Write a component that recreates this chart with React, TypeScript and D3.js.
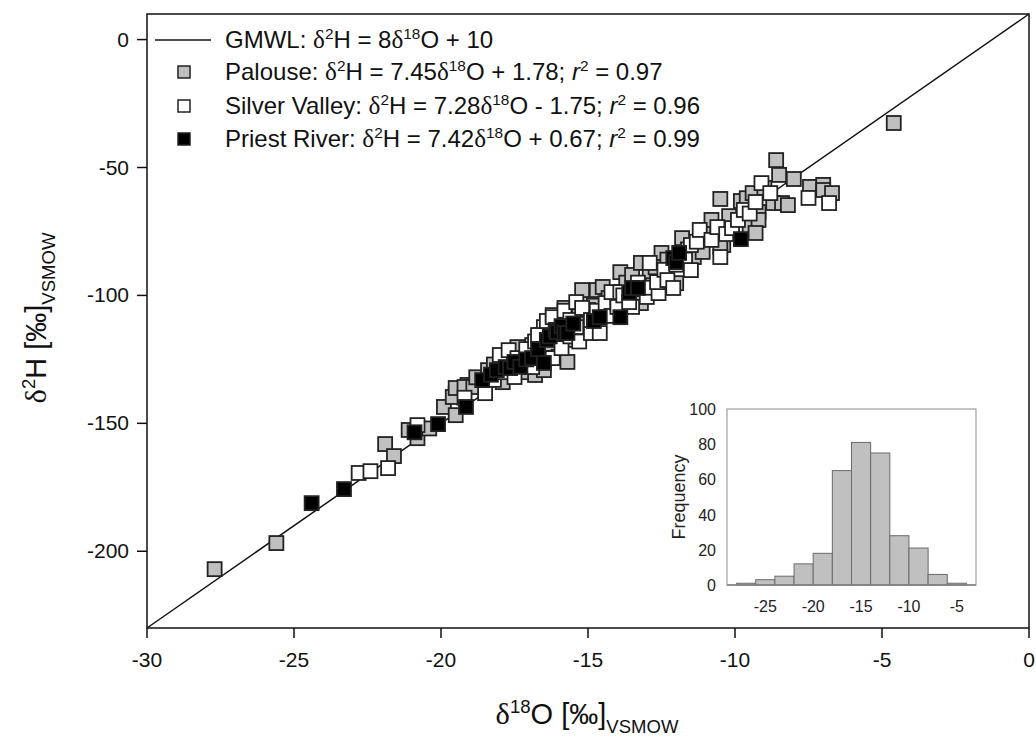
import * as d3 from "d3";
import { useRef, useEffect } from "react";

const W = 1036;
const H = 740;

// main plot box (px)
const box = { left: 147, right: 1029, top: 14, bottom: 628 };
// inset histogram box (px)
const inset = { left: 727, right: 976, top: 409, bottom: 585 };

const xTicks = [-30, -25, -20, -15, -10, -5, 0];
const yTicks = [0, -50, -100, -150, -200];

// GMWL: d2H = 8 d18O + 10
const gmwl = { slope: 8, intercept: 10 };

// [d18O, d2H]
const palouse: [number, number][] = [
  [-27.7, -207], [-25.6, -196.8], [-21.9, -158.1], [-21.6, -162.8], [-20.8, -155.8],
  [-21.1, -152.6], [-20.4, -152], [-19.9, -143.6], [-19.5, -138.2], [-19.5, -146.8],
  [-19.6, -139.7], [-19.5, -136.2], [-19.1, -135], [-19.2, -135.8], [-18.9, -135.8],
  [-18.8, -132], [-18.4, -129.2], [-18.2, -127], [-17.9, -133.9], [-17.6, -123],
  [-17.2, -125], [-17.1, -130], [-17.0, -128], [-16.8, -131.1], [-16.5, -129.2],
  [-16.9, -119.4], [-16.6, -122], [-17.4, -120.2], [-16.6, -115.5], [-16.3, -119],
  [-16.0, -124], [-15.7, -126], [-15.5, -117.4], [-15.9, -111], [-15.8, -104.9],
  [-15.5, -106.5], [-15.3, -108], [-15.2, -113], [-15.0, -101], [-15.2, -97.9],
  [-14.8, -104], [-14.7, -97.9], [-14.5, -96.7], [-14.3, -101], [-14.0, -106],
  [-13.9, -90.9], [-13.7, -95], [-13.5, -92], [-13.2, -87.3], [-13.2, -103],
  [-12.9, -91], [-12.8, -96], [-12.7, -89], [-12.5, -83.4], [-12.3, -86],
  [-12.0, -95.2], [-11.8, -77.6], [-11.6, -82], [-11.4, -85], [-11.1, -83],
  [-10.9, -75], [-10.6, -73.7], [-10.4, -80.3], [-10.8, -70.5], [-10.5, -81.1],
  [-10.2, -69], [-10.5, -62.3], [-9.8, -63.1], [-9.6, -62], [-9.4, -60],
  [-9.2, -67.4], [-9.5, -73.3], [-9.2, -70.5], [-9.3, -75.6], [-9.0, -58],
  [-8.7, -63.9], [-8.4, -63.9], [-8.2, -64.7], [-8.6, -47.1], [-8.5, -52.9],
  [-8.0, -54.5], [-7.45, -57.6], [-7.0, -56.8], [-7.0, -58.8], [-6.7, -60],
  [-4.6, -32.6],
];

const silverValley: [number, number][] = [
  [-22.8, -169.4], [-22.4, -168.7], [-21.8, -167.5], [-20.8, -150.7], [-19.2, -140],
  [-18.5, -138.2], [-18.2, -133], [-17.9, -130], [-18.0, -123.3], [-17.7, -121.4],
  [-17.4, -124.5], [-17.5, -131.9], [-17.1, -121], [-16.9, -128], [-16.8, -118],
  [-16.5, -112.4], [-16.7, -115.5], [-16.4, -110], [-16.2, -107.7], [-16.2, -124.5],
  [-15.9, -120.6], [-16.2, -108.5], [-15.8, -106], [-15.6, -109.6], [-15.6, -116],
  [-15.4, -112.4], [-15.3, -118], [-14.9, -114.7], [-14.6, -114.7], [-15.0, -105.7],
  [-15.4, -102.6], [-15.2, -104.9], [-14.9, -109.6], [-14.7, -106], [-14.4, -103],
  [-14.2, -108], [-14.0, -103], [-14.0, -104.5], [-13.5, -104.5], [-14.2, -98.7],
  [-13.9, -98.7], [-13.8, -100], [-13.6, -102.6], [-13.3, -95], [-13.0, -100.6],
  [-12.9, -97], [-12.6, -99.1], [-12.65, -94.8], [-12.4, -90], [-12.3, -94],
  [-12.1, -97.1], [-12.0, -88], [-12.9, -87.3], [-11.7, -86], [-11.5, -90.1],
  [-11.5, -80.3], [-11.3, -79], [-11.2, -74.4], [-10.8, -78.3], [-10.5, -85],
  [-10.6, -73.3], [-10.3, -76], [-10.1, -73.7], [-9.9, -70.5], [-9.7, -66.6],
  [-9.5, -68], [-9.3, -63.5], [-9.1, -56.1], [-8.8, -60], [-7.5, -61.9],
  [-6.8, -63.9],
];

const priestRiver: [number, number][] = [
  [-24.4, -181.2], [-23.3, -175.7], [-20.9, -153.5], [-20.1, -150.3], [-19.15, -143.6],
  [-18.6, -133.1], [-18.3, -131], [-18.1, -129.2], [-17.8, -128], [-17.65, -128.4],
  [-17.5, -126], [-17.3, -127.9], [-17.1, -125], [-16.9, -124.5], [-16.7, -121],
  [-16.5, -126.4], [-16.4, -117.4], [-16.3, -116], [-16.1, -113.5], [-16.05, -114.3],
  [-15.9, -112], [-15.8, -114.7], [-15.7, -114.7], [-15.5, -111], [-14.8, -110],
  [-14.6, -108.5], [-13.9, -108.5], [-13.6, -99], [-13.5, -97.1], [-13.3, -97.1],
  [-12.1, -85.4], [-12.0, -87], [-11.9, -83.4], [-9.8, -78],
];

// inset histogram of d18O (bin width 2)
const binStarts = [-28, -26, -24, -22, -20, -18, -16, -14, -12, -10, -8, -6];
const binCounts = [1, 3, 5, 12, 18, 65, 81, 75, 28, 21, 6, 1];
const histXTicks = [-25, -20, -15, -10, -5];
const histYTicks = [0, 20, 40, 60, 80, 100];

type Seg = [string, string?];

// writes mixed text: n normal, sup, sub, d = serif delta, i = italic
function rich(text: any, segs: Seg[], size: number) {
  let shift = 0;
  segs.forEach(([t, kind]) => {
    const ts = text.append("tspan").text(t);
    let target = 0;
    if (kind === "sup") target = -size * 0.38;
    if (kind === "sub") target = size * 0.3;
    ts.attr("dy", target - shift);
    shift = target;
    if (kind === "sup" || kind === "sub") ts.attr("font-size", size * 0.64);
    if (kind === "d") ts.attr("font-family", "'Liberation Serif', serif").attr("font-size", size * 1.05);
    if (kind === "i") ts.attr("font-style", "italic");
  });
}

const App = () => {
  const ref = useRef<SVGSVGElement>(null);

  useEffect(() => {
    const svg = d3.select(ref.current);
    svg.selectAll("*").remove();
    svg.attr("font-family", "'Liberation Sans', Arial, sans-serif");

    const x = d3.scaleLinear().domain([-30, 0]).range([box.left, box.right]);
    const y = d3.scaleLinear().domain([-230, 10]).range([box.bottom, box.top]);

    // GMWL line across the x domain
    const gx = x.domain();
    svg.append("line")
      .attr("x1", x(gx[0])).attr("y1", y(gmwl.slope * gx[0] + gmwl.intercept))
      .attr("x2", x(gx[1])).attr("y2", y(gmwl.slope * gx[1] + gmwl.intercept))
      .attr("stroke", "#111").attr("stroke-width", 1.5);

    // points
    const size = 14;
    const drawPts = (data: [number, number][], fill: string) => {
      svg.append("g").selectAll("rect").data(data).join("rect")
        .attr("x", d => x(d[0]) - size / 2)
        .attr("y", d => y(d[1]) - size / 2)
        .attr("width", size).attr("height", size)
        .attr("fill", fill).attr("stroke", "#222").attr("stroke-width", 1.8);
    };
    drawPts(palouse, "#c0c0c0");
    drawPts(silverValley, "#ffffff");
    drawPts(priestRiver, "#000000");

    // frame
    svg.append("rect")
      .attr("x", box.left).attr("y", box.top)
      .attr("width", box.right - box.left).attr("height", box.bottom - box.top)
      .attr("fill", "none").attr("stroke", "#111").attr("stroke-width", 1.5);

    // x axis
    const xa = svg.append("g");
    xTicks.forEach(t => {
      xa.append("line").attr("x1", x(t)).attr("x2", x(t))
        .attr("y1", box.bottom).attr("y2", box.bottom + 10)
        .attr("stroke", "#111").attr("stroke-width", 1.5);
      xa.append("text").attr("x", x(t)).attr("y", box.bottom + 39)
        .attr("text-anchor", "middle").attr("font-size", 21).attr("fill", "#111").text(t);
    });
    // y axis
    const ya = svg.append("g");
    yTicks.forEach(t => {
      ya.append("line").attr("x1", box.left - 10).attr("x2", box.left)
        .attr("y1", y(t)).attr("y2", y(t))
        .attr("stroke", "#111").attr("stroke-width", 1.5);
      ya.append("text").attr("x", box.left - 18).attr("y", y(t) + 7)
        .attr("text-anchor", "end").attr("font-size", 21).attr("fill", "#111").text(t);
    });

    // axis titles
    const xt = svg.append("text").attr("x", 587).attr("y", 724)
      .attr("text-anchor", "middle").attr("font-size", 29).attr("fill", "#111");
    rich(xt, [["δ", "d"], ["18", "sup"], ["O [‰]"], ["VSMOW", "sub"]], 29);

    const yt = svg.append("text")
      .attr("transform", `translate(46,318) rotate(-90)`)
      .attr("text-anchor", "middle").attr("font-size", 29).attr("fill", "#111");
    rich(yt, [["δ", "d"], ["2", "sup"], ["H [‰]"], ["VSMOW", "sub"]], 29);

    // legend
    const lg = svg.append("g");
    const fs = 24;
    const rowY = [40, 72, 106, 139];
    lg.append("line").attr("x1", 155).attr("x2", 211).attr("y1", rowY[0]).attr("y2", rowY[0])
      .attr("stroke", "#111").attr("stroke-width", 1.5);
    const fills = ["#c0c0c0", "#ffffff", "#000000"];
    fills.forEach((f, i) => {
      lg.append("rect").attr("x", 184 - 6).attr("y", rowY[i + 1] - 6)
        .attr("width", 12).attr("height", 12)
        .attr("fill", f).attr("stroke", "#222").attr("stroke-width", 1.5);
    });
    const labels: Seg[][] = [
      [["GMWL: "], ["δ", "d"], ["2", "sup"], ["H = 8"], ["δ", "d"], ["18", "sup"], ["O + 10"]],
      [["Palouse: "], ["δ", "d"], ["2", "sup"], ["H = 7.45"], ["δ", "d"], ["18", "sup"], ["O + 1.78; "], ["r", "i"], ["2", "sup"], [" = 0.97"]],
      [["Silver Valley: "], ["δ", "d"], ["2", "sup"], ["H = 7.28"], ["δ", "d"], ["18", "sup"], ["O - 1.75; "], ["r", "i"], ["2", "sup"], [" = 0.96"]],
      [["Priest River: "], ["δ", "d"], ["2", "sup"], ["H = 7.42"], ["δ", "d"], ["18", "sup"], ["O + 0.67; "], ["r", "i"], ["2", "sup"], [" = 0.99"]],
    ];
    labels.forEach((segs, i) => {
      const t = lg.append("text").attr("x", 225).attr("y", rowY[i] + 8)
        .attr("font-size", fs).attr("fill", "#111");
      rich(t, segs, fs);
    });

    // inset histogram
    const hx = d3.scaleLinear().domain([-29, -3]).range([inset.left, inset.right]);
    const hy = d3.scaleLinear().domain([0, 100]).range([inset.bottom, inset.top]);
    const hg = svg.append("g");
    hg.append("rect").attr("x", inset.left).attr("y", inset.top)
      .attr("width", inset.right - inset.left).attr("height", inset.bottom - inset.top)
      .attr("fill", "#fff").attr("stroke", "#a0a0a0").attr("stroke-width", 1.2);
    hg.selectAll("rect.bar").data(binStarts).join("rect").attr("class", "bar")
      .attr("x", d => hx(d)).attr("width", d => hx(d + 2) - hx(d))
      .attr("y", (d, i) => hy(binCounts[i]))
      .attr("height", (d, i) => hy(0) - hy(binCounts[i]))
      .attr("fill", "#c0c0c0").attr("stroke", "#6a6a6a").attr("stroke-width", 1);
    hg.append("line").attr("x1", inset.left).attr("x2", inset.right)
      .attr("y1", inset.bottom).attr("y2", inset.bottom)
      .attr("stroke", "#808080").attr("stroke-width", 1.4);
    histYTicks.forEach(t => {
      hg.append("text").attr("x", inset.left - 11).attr("y", hy(t) + 6)
        .attr("text-anchor", "end").attr("font-size", 16).attr("fill", "#222").text(t);
    });
    histXTicks.forEach(t => {
      hg.append("text").attr("x", hx(t)).attr("y", inset.bottom + 27)
        .attr("text-anchor", "middle").attr("font-size", 16).attr("fill", "#222").text(t);
    });
    hg.append("text")
      .attr("transform", `translate(685,${(inset.top + inset.bottom) / 2}) rotate(-90)`)
      .attr("text-anchor", "middle").attr("font-size", 18).attr("fill", "#222").text("Frequency");
  }, []);

  return (
    <div style={{ position: "absolute", left: 0, top: 0 }}>
      <svg ref={ref} width={W} height={H} />
    </div>
  );
};

export default App;
